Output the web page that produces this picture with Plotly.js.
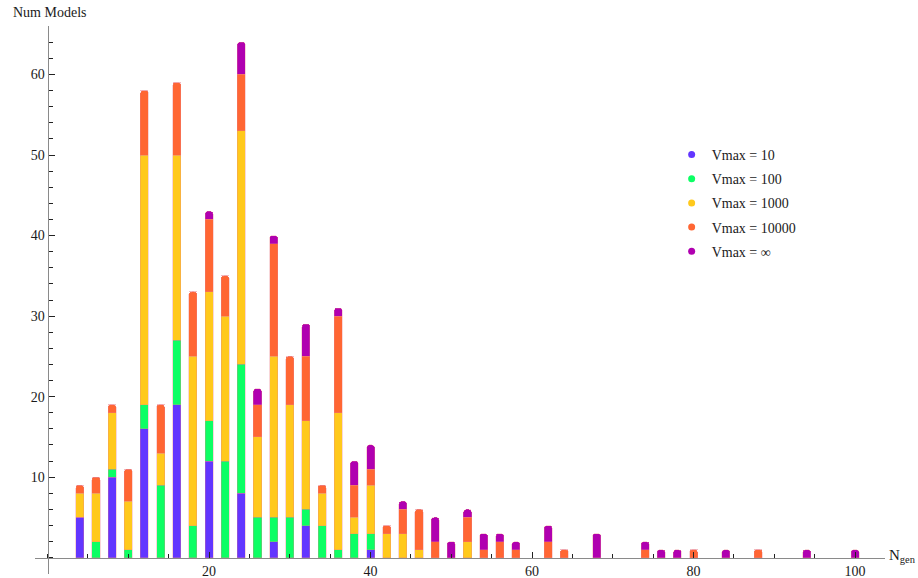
<!DOCTYPE html>
<html>
<head>
<meta charset="utf-8">
<script src="https://cdn.plot.ly/plotly-3.0.1.min.js"></script>
<style>html,body{margin:0;padding:0;background:#fff;}#chart{width:918px;height:578px;}</style>
</head>
<body>
<div id="chart"></div>
<script>
// Number of generators (x positions of the bars)
const nGen = [4,6,8,10,12,14,16,18,20,22,24,26,28,30,32,34,36,38,40,42,44,46,48,50,52,54,56,58,62,64,68,74,76,78,80,84,88,94,100];
// Segment heights (counts added at each Vmax threshold)
const vmax10    = [5,0,10,0,16,0,19,0,12,0,8,0,2,0,4,0,0,0,1,0,0,0,0,0,0,0,0,0,0,0,0,0,0,0,0,0,0,0,0];
const vmax100   = [0,2,1,1,3,9,8,4,5,12,16,5,3,5,2,4,1,3,2,0,0,0,0,0,0,0,0,0,0,0,0,0,0,0,0,0,0,0,0];
const vmax1000  = [3,6,7,6,31,4,23,21,16,18,29,10,20,14,11,4,17,2,6,3,3,1,0,0,2,0,0,0,0,0,0,0,0,0,0,0,0,0,0];
const vmax10000 = [1,2,1,4,8,6,9,8,9,5,7,4,14,6,8,1,12,4,2,1,3,5,2,0,3,1,2,1,2,1,0,1,0,0,1,0,1,0,0];
const vmaxInf   = [0,0,0,0,0,0,0,0,1,0,4,2,1,0,4,0,1,3,3,0,1,0,3,2,1,2,1,1,2,0,3,1,1,1,0,1,0,1,1];
const seriesNames = ["Vmax = 10","Vmax = 100","Vmax = 1000","Vmax = 10000","Vmax = \u221E"];
const seriesValues = [vmax10, vmax100, vmax1000, vmax10000, vmaxInf];
const xTickVals = [20,40,60,80,100];
const yTickVals = [10,20,30,40,50,60];

const colors = ["#6236FF","#0CFF64","#FFC91C","#FF6633","#B000B0"];
const FONT = "Liberation Serif, Times New Roman, serif";

const traces = [];
seriesValues.forEach((vals, i) => {
  traces.push({
    type: "bar", x: nGen, y: vals, name: seriesNames[i],
    showlegend: false, hoverinfo: "skip",
    marker: {color: colors[i], cornerradius: 3, line: {width: 0.6, color: "rgba(235,130,140,0.55)"}}
  });
});
seriesValues.forEach((vals, i) => {
  traces.push({
    type: "scatter", mode: "markers", x: [null], y: [null], name: seriesNames[i],
    legendgroup: "g" + i, showlegend: true,
    marker: {color: colors[i], size: 7, symbol: "circle"}
  });
});

const xMinor = []; for (let v = 0; v <= 100; v += 5) if (xTickVals.indexOf(v) < 0) xMinor.push(v);
const yMinor = []; for (let v = -2; v <= 66; v += 2) if (yTickVals.indexOf(v) < 0) yMinor.push(v);

const xr = [-1.55, 103.7], yr = [-2.02, 66.02];
const layout = {
  width: 918, height: 578,
  margin: {l: 35, r: 33, t: 26, b: 4, pad: 0},
  paper_bgcolor: "#fff", plot_bgcolor: "#fff",
  barmode: "stack", bargap: 0.5,
  font: {family: FONT, size: 14, color: "#1a1a1a"},
  showlegend: true,
  legend: {x: 0.749, y: 0.794, xanchor: "left", yanchor: "top", bgcolor: "rgba(0,0,0,0)",
           font: {family: FONT, size: 14, color: "#1a1a1a"}, tracegroupgap: 3, itemclick: false},
  xaxis: {
    range: xr, anchor: "free", position: (0 - yr[0]) / (yr[1] - yr[0]),
    showgrid: false, zeroline: false, showline: true, linecolor: "#8a8a8a", linewidth: 1,
    tickmode: "array", tickvals: xTickVals, ticktext: xTickVals.map(String),
    ticks: "inside", ticklen: 6, tickcolor: "#222", tickwidth: 1,
    minor: {tickmode: "array", tickvals: xMinor, ticks: "inside", ticklen: 3.5, tickcolor: "#222", showgrid: false},
    tickfont: {family: FONT, size: 14, color: "#1a1a1a"}, automargin: false
  },
  yaxis: {
    range: yr, anchor: "free", position: (0 - xr[0]) / (xr[1] - xr[0]),
    showgrid: false, zeroline: false, showline: true, linecolor: "#8a8a8a", linewidth: 1,
    tickmode: "array", tickvals: yTickVals, ticktext: yTickVals.map(String),
    ticks: "inside", ticklen: 6, tickcolor: "#222", tickwidth: 1,
    minor: {tickmode: "array", tickvals: yMinor, ticks: "inside", ticklen: 4, tickcolor: "#222", showgrid: false},
    tickfont: {family: FONT, size: 14, color: "#1a1a1a"}, automargin: false
  },
  annotations: [
    {text: "Num Models", xref: "paper", yref: "paper", x: -0.028, y: 1.0255, xanchor: "left", yanchor: "middle",
     showarrow: false, font: {family: FONT, size: 14, color: "#1a1a1a"}},
    {text: "N<sub>gen</sub>", xref: "paper", yref: "paper", x: 1.0025, y: 0.033, xanchor: "left", yanchor: "middle",
     showarrow: false, font: {family: FONT, size: 15, color: "#1a1a1a"}}
  ]
};

Plotly.newPlot("chart", traces, layout, {displayModeBar: false, staticPlot: true});
</script>
</body>
</html>
